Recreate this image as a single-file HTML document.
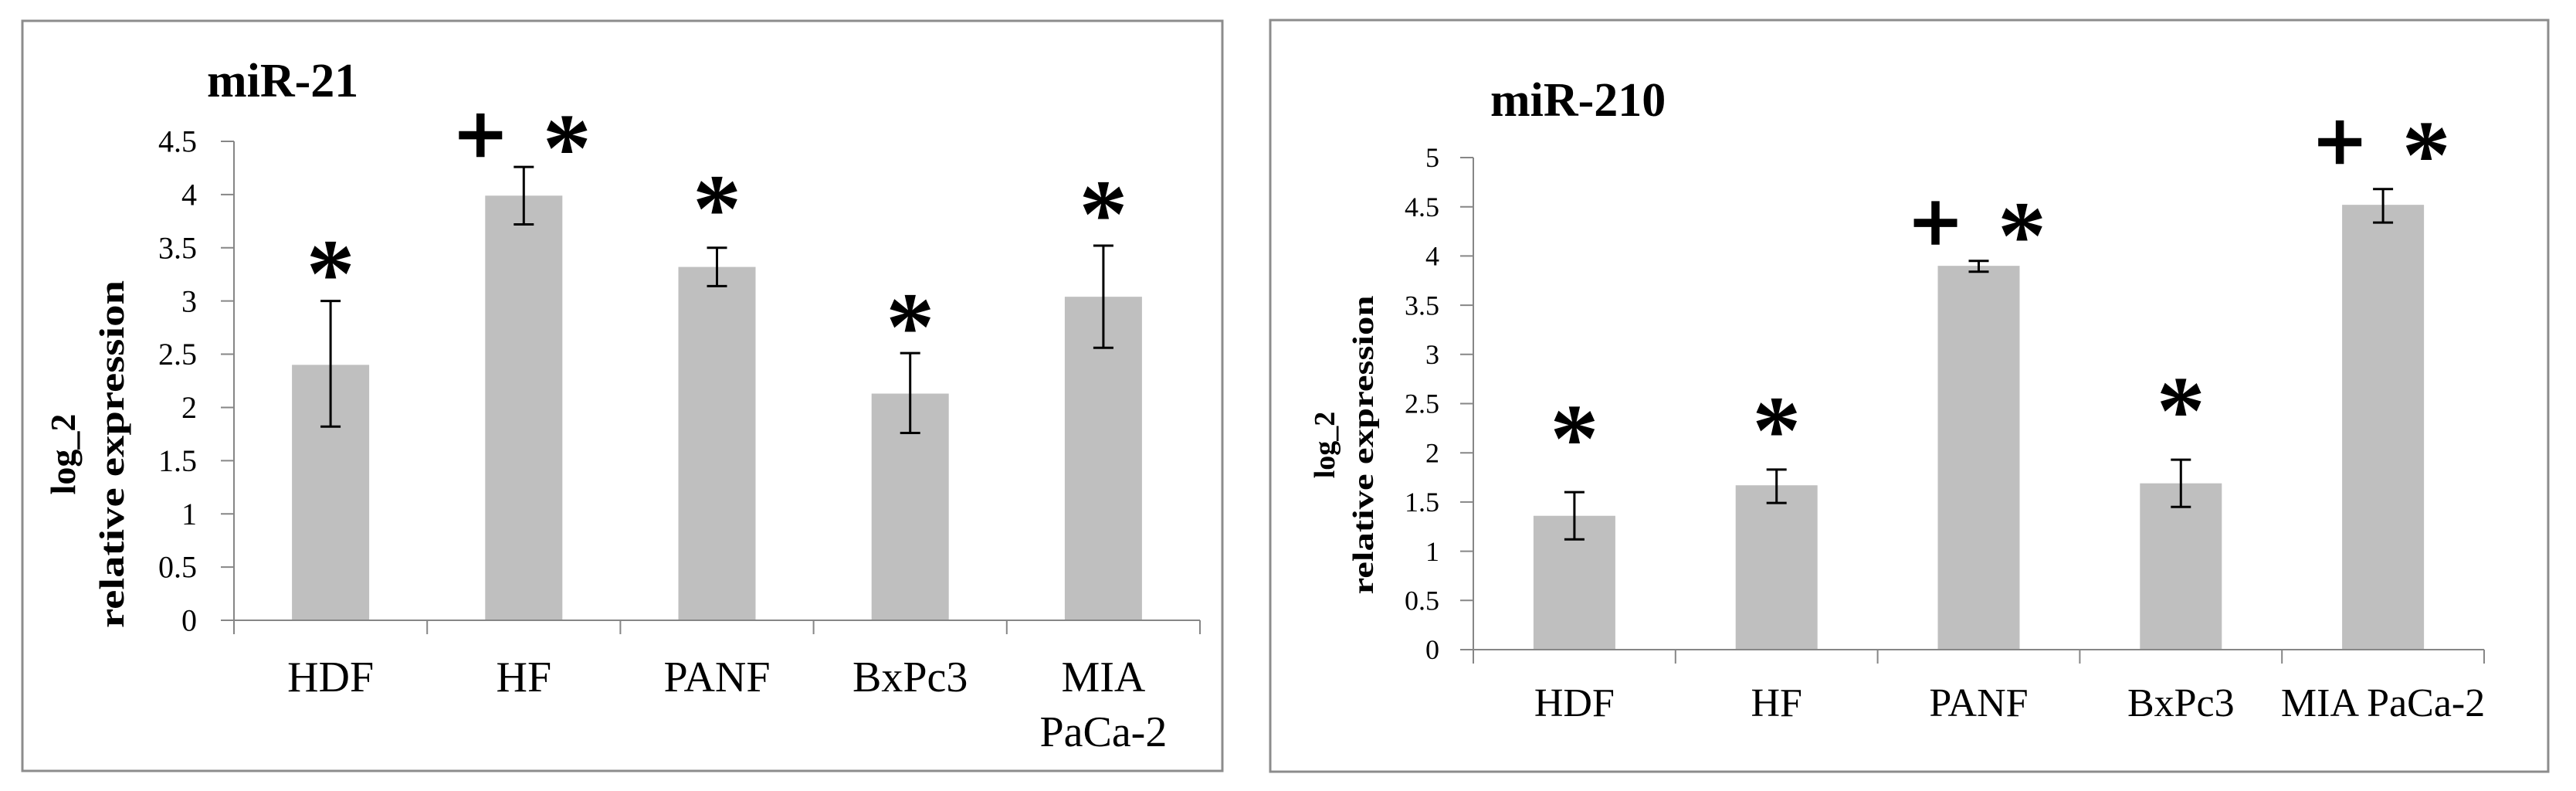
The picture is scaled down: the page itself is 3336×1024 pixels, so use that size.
<!DOCTYPE html>
<html><head><meta charset="utf-8"><style>
html,body{margin:0;padding:0;background:#fff;}
svg{display:block;}
text{font-family:"Liberation Serif",serif;}
</style></head><body>
<svg id="svg" width="3336" height="1024" viewBox="0 0 3336 1024">
<rect x="29" y="27" width="1554" height="971" fill="none" stroke="#8c8c8c" stroke-width="3"/>
<rect x="1645" y="26" width="1655" height="973" fill="none" stroke="#8c8c8c" stroke-width="3"/>
<g id="c1"></g>
<g id="c2"></g>
</svg>
<script>
const categories = ["HDF","HF","PANF","BxPc3","MIA PaCa-2"];
const mir21Values = [2.40, 3.99, 3.32, 2.13, 3.04];
const mir21ErrLow = [1.82, 3.72, 3.14, 1.76, 2.56];
const mir21ErrHigh = [3.00, 4.26, 3.50, 2.51, 3.52];
const mir21Plus = [false, true, false, false, false];
const mir21Star = [true, true, true, true, true];
const mir21Mark = [3.39, 4.57, 4.00, 2.89, 3.95];
const mir21Ticks = ["0","0.5","1","1.5","2","2.5","3","3.5","4","4.5"];
const mir210Values = [1.36, 1.67, 3.90, 1.69, 4.52];
const mir210ErrLow = [1.12, 1.49, 3.84, 1.45, 4.34];
const mir210ErrHigh = [1.60, 1.83, 3.95, 1.93, 4.68];
const mir210Plus = [false, false, true, false, true];
const mir210Star = [true, true, true, true, true];
const mir210Mark = [2.29, 2.37, 4.35, 2.57, 5.17];
const mir210Ticks = ["0","0.5","1","1.5","2","2.5","3","3.5","4","4.5","5"];
const NS="http://www.w3.org/2000/svg";
function mk(parent,tag,attrs,txt){const e=document.createElementNS(NS,tag);for(const k in attrs)e.setAttribute(k,attrs[k]);if(txt!==undefined)e.textContent=txt;parent.appendChild(e);return e;}
function draw(g,cfg){
  const yS=v=>cfg.y0-(v/cfg.max)*(cfg.y0-cfg.yTop);
  const cw=(cfg.x1-cfg.x0)/categories.length;
  const xC=i=>cfg.x0+cw*(i+0.5);
  let t=mk(g,'text',{x:cfg.titleX,y:cfg.titleY,'font-size':62,'font-weight':'bold'},cfg.title);
  
  
  let ya=mk(g,'line',{x1:cfg.x0,y1:cfg.yTop,x2:cfg.x0,y2:cfg.y0+18,stroke:'#868686','stroke-width':2});
  
  
  cfg.ticks.forEach((lab,i)=>{
    const v=parseFloat(lab),y=yS(v);
    mk(g,'line',{x1:cfg.x0-17,y1:y,x2:cfg.x0,y2:y,stroke:'#868686','stroke-width':2});
    let tl=mk(g,'text',{x:cfg.x0-cfg.tickGap,y:y+cfg.tickFs*0.34,'font-size':cfg.tickFs,'text-anchor':'end'},lab);
    
    
  });
  let yt=mk(g,'text',{transform:`translate(${cfg.ytX},${cfg.ytY}) rotate(-90)`,'font-size':cfg.ytFs,'font-weight':'bold','text-anchor':'middle'});
  
  
  mk(yt,'tspan',{x:0,y:-cfg.ytGap},'log_2');
  let t2=mk(g,'text',{transform:`translate(${cfg.ytX},${cfg.ytY}) rotate(-90)`,'font-size':cfg.ytFs,'font-weight':'bold','text-anchor':'middle',textLength:cfg.ytLen,lengthAdjust:'spacingAndGlyphs'},'relative expression');
  
  
  cfg.values.forEach((v,i)=>{
    const xc=xC(i),bw=cfg.bw;
    let b=mk(g,'rect',{x:xc-bw/2,y:yS(v),width:bw,height:cfg.y0-yS(v),fill:'#bfbfbf'});
    
    
    const yl=yS(cfg.lo[i]),yh=yS(cfg.hi[i]);
    let eb=mk(g,'path',{d:`M${xc},${yl}V${yh}M${xc-13},${yl}H${xc+13}M${xc-13},${yh}H${xc+13}`,stroke:'#000','stroke-width':3,fill:'none'});
    
    
    const markY=yS(cfg.mark[i]);
    if(cfg.plus[i]){
      let p=mk(g,'text',{x:xc-cfg.pairOff,y:markY+40,'font-size':115,'font-weight':'bold','text-anchor':'middle','font-family':'DejaVu Sans, sans-serif',stroke:'#000','stroke-width':2.5},'+');
      
      
    }
    if(cfg.star[i]){
      const sx=cfg.plus[i]?xc+cfg.pairOff:xc;
      let s=mk(g,'text',{x:sx,y:markY+60,'font-size':126,'font-weight':'bold','text-anchor':'middle','font-family':'Liberation Sans, sans-serif'},'*');
      
      
    }
  });
  let xa=mk(g,'line',{x1:cfg.x0,y1:cfg.y0,x2:cfg.x1,y2:cfg.y0,stroke:'#868686','stroke-width':2});
  
  
  for(let i=0;i<=categories.length;i++){
    mk(g,'line',{x1:cfg.x0+cw*i,y1:cfg.y0,x2:cfg.x0+cw*i,y2:cfg.y0+18,stroke:'#868686','stroke-width':2});
  }
  categories.forEach((c,i)=>{
    const lines=cfg.wrap&&c.indexOf(' ')>0?c.split(' '):[c];
    lines.forEach((ln,j)=>{
      let cl=mk(g,'text',{x:xC(i),y:cfg.labY+j*71,'font-size':cfg.labFs,'text-anchor':'middle'},ln);
      
      
    });
  });
}
draw(document.getElementById('c1'),{title:'miR-21',titleX:268,titleY:125,x0:303,x1:1554,y0:803,yTop:183,max:4.5,bw:100,ticks:mir21Ticks,values:mir21Values,lo:mir21ErrLow,hi:mir21ErrHigh,plus:mir21Plus,star:mir21Star,mark:mir21Mark,ytX:160,ytY:588,ytGap:63,ytFs:46,ytLen:450,tickFs:40,tickGap:48,labY:895,labFs:56,wrap:true,pairOff:56});
draw(document.getElementById('c2'),{title:'miR-210',titleX:1930,titleY:150,x0:1908,x1:3217,y0:841,yTop:204,max:5,bw:106,ticks:mir210Ticks,values:mir210Values,lo:mir210ErrLow,hi:mir210ErrHigh,plus:mir210Plus,star:mir210Star,mark:mir210Mark,ytX:1778,ytY:576,ytGap:50,ytFs:38,ytLen:387,tickFs:36,tickGap:44,labY:927,labFs:52,wrap:false,pairOff:56});
</script>
</body></html>
